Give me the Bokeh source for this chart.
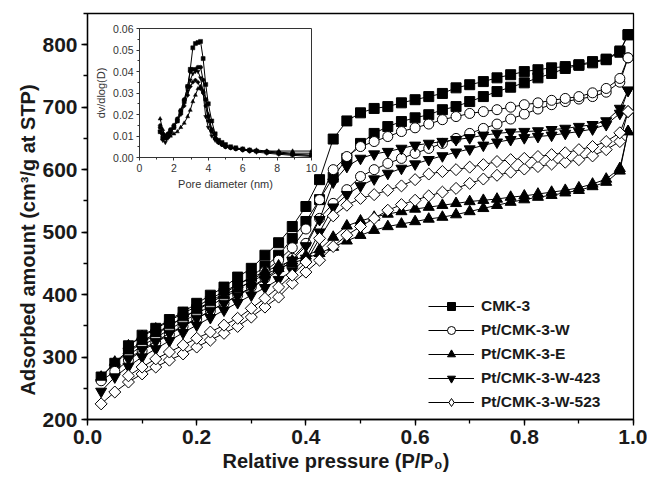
import math
from bokeh.plotting import figure
from bokeh.models import (Range1d, SingleIntervalTicker, PrintfTickFormatter,
                          Legend, LegendItem, Title)
from bokeh.embed import file_html
from bokeh.resources import INLINE

# ---------------- main isotherm data ----------------
P_ADS = [0.025, 0.05, 0.075, 0.10, 0.125, 0.15, 0.175, 0.20, 0.225, 0.25,
         0.275, 0.30, 0.325, 0.35, 0.375, 0.40, 0.425, 0.45, 0.475, 0.50,
         0.525, 0.55, 0.575, 0.60, 0.625, 0.65, 0.675, 0.70, 0.725, 0.75,
         0.775, 0.80, 0.825, 0.85, 0.875, 0.90, 0.925, 0.95, 0.975, 0.99]
P_DES = [0.99, 0.975, 0.95, 0.925, 0.90, 0.875, 0.85, 0.825, 0.80, 0.775,
         0.75, 0.725, 0.70, 0.675, 0.65, 0.625, 0.60, 0.575, 0.55, 0.525,
         0.50, 0.475, 0.45, 0.425, 0.40, 0.375, 0.35, 0.325, 0.30, 0.275,
         0.25, 0.225, 0.20, 0.175, 0.15, 0.125, 0.10, 0.075]

CMK3_ADS = [268, 290, 308, 323, 336, 350, 363, 376, 389, 402, 415, 429, 445, 463, 490, 517, 552, 588, 618, 642,
            658, 669, 677, 683, 688, 696, 701, 709, 717, 725, 732, 739, 747, 754, 762, 767, 771, 776, 788, 816]
CMK3_DES = [816, 790, 777, 773, 768, 765, 763, 760, 757, 752, 747, 741, 736, 731, 722, 717, 712, 707, 701, 698,
            691, 678, 649, 584, 541, 509, 483, 463, 442, 428, 412, 399, 386, 372, 360, 346, 335, 318]

W_ADS = [262, 277, 295, 310, 323, 336, 349, 361, 374, 386, 399, 412, 426, 441, 458, 482, 522, 546, 568, 589,
         600, 610, 618, 626, 634, 642, 650, 658, 666, 673, 681, 689, 697, 704, 709, 713, 717, 724, 740, 779]
W_DES = [779, 746, 730, 723, 717, 714, 711, 707, 704, 700, 696, 693, 690, 685, 680, 673, 667, 661, 653, 645,
         637, 621, 600, 552, 505, 475, 455, 437, 422, 408, 395, 382, 369, 357, 344, 331, 318, 303]

E_ADS = [268, 292, 310, 325, 338, 351, 363, 375, 387, 399, 410, 421, 432, 442, 450, 458, 466, 476, 486, 495,
         503, 509, 513, 517, 521, 524, 528, 533, 538, 543, 548, 552, 556, 559, 563, 567, 573, 580, 598, 661]
E_DES = [661, 602, 585, 577, 571, 567, 564, 561, 558, 556, 553, 551, 549, 546, 543, 540, 537, 533, 529, 524,
         518, 510, 492, 472, 462, 454, 446, 437, 427, 416, 405, 393, 381, 370, 358, 345, 333, 318]

W423_ADS = [245, 268, 285, 300, 313, 326, 339, 351, 363, 375, 387, 399, 411, 424, 438, 458, 500, 540, 560, 574,
            585, 594, 602, 609, 616, 622, 628, 633, 639, 644, 648, 651, 653, 655, 658, 661, 665, 672, 690, 727]
W423_DES = [727, 698, 678, 672, 669, 666, 664, 662, 661, 660, 658, 655, 651, 648, 645, 642, 639, 634, 629, 625,
            618, 605, 580, 520, 478, 455, 438, 424, 411, 398, 386, 374, 362, 350, 338, 325, 312, 297]

W523_ADS = [225, 244, 260, 273, 284, 295, 305, 316, 327, 338, 349, 364, 380, 396, 418, 436, 455, 477, 495, 509,
            522, 535, 544, 551, 558, 564, 570, 578, 585, 591, 596, 601, 605, 609, 612, 616, 622, 632, 645, 693]
W523_DES = [693, 659, 645, 637, 632, 627, 624, 621, 618, 616, 613, 608, 604, 600, 597, 593, 584, 574, 567, 560,
            554, 543, 526, 490, 452, 431, 412, 394, 378, 362, 351, 340, 330, 319, 308, 297, 284, 270]

NAMES = ["CMK-3", "Pt/CMK-3-W", "Pt/CMK-3-E", "Pt/CMK-3-W-423", "Pt/CMK-3-W-523"]

# ---------------- inset (pore size distribution) data ----------------
D_NM = [1.2, 1.35, 1.5, 1.65, 1.8, 2.0, 2.2, 2.4, 2.6, 2.8, 2.95, 3.1, 3.25, 3.4, 3.55, 3.7,
        3.85, 4.0, 4.2, 4.4, 4.6, 4.8, 5.0, 5.3, 5.6, 6.0, 6.4, 6.8, 7.4, 8.1, 8.9, 10.0]
PSD_CMK3 = [0.012, 0.009, 0.009, 0.010, 0.012, 0.014, 0.017, 0.021, 0.026, 0.033, 0.041, 0.051, 0.053, 0.0535,
            0.054, 0.046, 0.034, 0.025, 0.017, 0.011, 0.008, 0.007, 0.006, 0.005, 0.0045, 0.004, 0.0035,
            0.003, 0.0025, 0.002, 0.0015, 0.001]
PSD_W = [0.014, 0.011, 0.010, 0.011, 0.013, 0.015, 0.018, 0.022, 0.027, 0.033, 0.040, 0.041, 0.041, 0.042,
         0.042, 0.036, 0.027, 0.019, 0.013, 0.009, 0.007, 0.006, 0.005, 0.0045, 0.004, 0.0035, 0.003,
         0.003, 0.0025, 0.002, 0.0015, 0.001]
PSD_E = [0.018, 0.013, 0.010, 0.0095, 0.010, 0.011, 0.012, 0.014, 0.016, 0.019, 0.022, 0.026, 0.029, 0.032,
         0.033, 0.031, 0.027, 0.020, 0.013, 0.009, 0.007, 0.006, 0.005, 0.0045, 0.004, 0.004, 0.0035,
         0.0035, 0.003, 0.003, 0.003, 0.003]
PSD_W423 = [0.012, 0.008, 0.007, 0.009, 0.011, 0.014, 0.017, 0.021, 0.026, 0.031, 0.036, 0.039, 0.040, 0.040,
            0.037, 0.030, 0.019, 0.014, 0.010, 0.008, 0.007, 0.006, 0.005, 0.0045, 0.004, 0.0035, 0.003,
            0.0025, 0.002, 0.0015, 0.001, 0.0005]
PSD_W523 = [0.015, 0.011, 0.010, 0.011, 0.012, 0.014, 0.017, 0.020, 0.024, 0.029, 0.033, 0.035, 0.036, 0.035,
            0.032, 0.030, 0.024, 0.017, 0.012, 0.009, 0.007, 0.006, 0.005, 0.0045, 0.004, 0.0035, 0.0035,
            0.003, 0.003, 0.0025, 0.002, 0.002]

# ---------------- styles ----------------
MARKERS = ["square", "circle", "triangle", "inverted_triangle", "square"]
LEG_MARKERS = ["square", "circle", "triangle", "inverted_triangle", "diamond"]
ANGLES = [0, 0, 0, 0, math.pi / 4]
FILLS = ["black", "white", "black", "black", "white"]
SIZES = [10, 10, 11, 11, 8.5]
LEG_SIZES = [8, 8, 9, 9, 12]
FONT = "Liberation Sans"
TXT = "#1a1a1a"

p = figure(width=647, height=479, x_range=Range1d(0, 1.0), y_range=Range1d(200, 850),
           output_backend="svg", toolbar_location=None,
           min_border_left=87, min_border_right=14, min_border_top=13, min_border_bottom=60)
p.grid.visible = False
p.outline_line_color = "black"
p.outline_line_width = 1.3
p.background_fill_color = "white"
p.border_fill_color = "white"

p.xaxis.ticker = SingleIntervalTicker(interval=0.2, num_minor_ticks=2)
p.xaxis.formatter = PrintfTickFormatter(format="%.1f")
p.yaxis.ticker = SingleIntervalTicker(interval=100, num_minor_ticks=2)
for ax in (p.xaxis[0], p.yaxis[0]):
    ax.axis_line_width = 1.3
    ax.major_tick_line_width = 1.3
    ax.minor_tick_line_width = 1.3
    ax.major_tick_out = 6
    ax.major_tick_in = 0
    ax.minor_tick_out = 4
    ax.minor_tick_in = 0
    ax.major_label_text_font = FONT
    ax.major_label_text_font_style = "bold"
    ax.major_label_text_font_size = "21px"
    ax.major_label_text_color = TXT
p.xaxis.major_label_standoff = 4
p.yaxis.major_label_standoff = 4

xt = Title(text="Relative pressure (P/P\u2080)", align="left", offset=135, standoff=2,
           text_font=FONT, text_font_style="bold", text_font_size="20px", text_color=TXT)
p.add_layout(xt, "below")
yt = Title(text="Adsorbed amount (cm\u00b3/g at STP)", align="left", offset=24, standoff=2,
           text_font=FONT, text_font_style="bold", text_font_size="20px", text_color=TXT)
p.add_layout(yt, "left")

series = [(CMK3_ADS, CMK3_DES), (W_ADS, W_DES), (E_ADS, E_DES),
          (W423_ADS, W423_DES), (W523_ADS, W523_DES)]
items = []
for i, (ads, des) in enumerate(series):
    r_line = None
    for xs, ys in ((P_ADS, ads), (P_DES, des)):
        ln = p.line(xs, ys, line_color="black", line_width=1)
        p.scatter(xs, ys, marker=MARKERS[i], size=SIZES[i], angle=ANGLES[i],
                  fill_color=FILLS[i], line_color="black", line_width=1)
        if r_line is None:
            r_line = ln
    # legend-only marker proxy (not plotted: NaN position)
    leg_marker = p.scatter([float("nan")], [float("nan")], marker=LEG_MARKERS[i], size=LEG_SIZES[i],
                           fill_color=FILLS[i], line_color="black", line_width=1)
    items.append(LegendItem(label=NAMES[i], renderers=[r_line, leg_marker]))

legend = Legend(items=items, location=(341, 7), glyph_width=46, glyph_height=20,
                spacing=4, padding=0, margin=0, label_standoff=7,
                label_text_font=FONT, label_text_font_style="bold",
                label_text_font_size="15.5px", label_text_color=TXT,
                border_line_color=None, background_fill_alpha=0)
p.add_layout(legend)

# ---------------- inset ----------------
inset = figure(width=229, height=169, x_range=Range1d(0, 10), y_range=Range1d(0, 0.06),
               output_backend="svg", toolbar_location=None,
               min_border_left=44, min_border_right=10, min_border_top=5, min_border_bottom=30,
               styles={"position": "absolute", "left": "92px", "top": "23px"})
inset.grid.visible = False
inset.outline_line_color = "#333333"
inset.outline_line_width = 1
inset.background_fill_color = "white"
inset.border_fill_color = None
inset.xaxis.ticker = SingleIntervalTicker(interval=2, num_minor_ticks=2)
inset.yaxis.ticker = SingleIntervalTicker(interval=0.01, num_minor_ticks=2)
inset.yaxis.formatter = PrintfTickFormatter(format="%.2f")
for ax in (inset.xaxis[0], inset.yaxis[0]):
    ax.axis_line_color = "#333333"
    ax.major_tick_line_color = "#333333"
    ax.minor_tick_line_color = "#333333"
    ax.major_tick_out = 3
    ax.major_tick_in = 0
    ax.minor_tick_out = 2
    ax.minor_tick_in = 0
    ax.major_label_text_font = FONT
    ax.major_label_text_font_size = "10.5px"
    ax.major_label_text_color = "#333333"
    ax.axis_label_text_font = FONT
    ax.axis_label_text_font_style = "normal"
    ax.axis_label_text_font_size = "11px"
    ax.axis_label_text_color = "#333333"
    ax.major_label_standoff = 3
    ax.axis_label_standoff = 3
inset.xaxis.axis_label = "Pore diameter (nm)"
inset.yaxis.axis_label = "dv/dlog(D)"

psd = [PSD_CMK3, PSD_W, PSD_E, PSD_W423, PSD_W523]
for i, ys in enumerate(psd):
    inset.line(D_NM, ys, line_color="black", line_width=1)
    inset.scatter(D_NM, ys, marker=MARKERS[i], size=4 if i != 4 else 3, angle=ANGLES[i],
                  fill_color="black", line_color="black", line_width=0.5)

open("out.html", "w").write(file_html([p, inset], INLINE))
